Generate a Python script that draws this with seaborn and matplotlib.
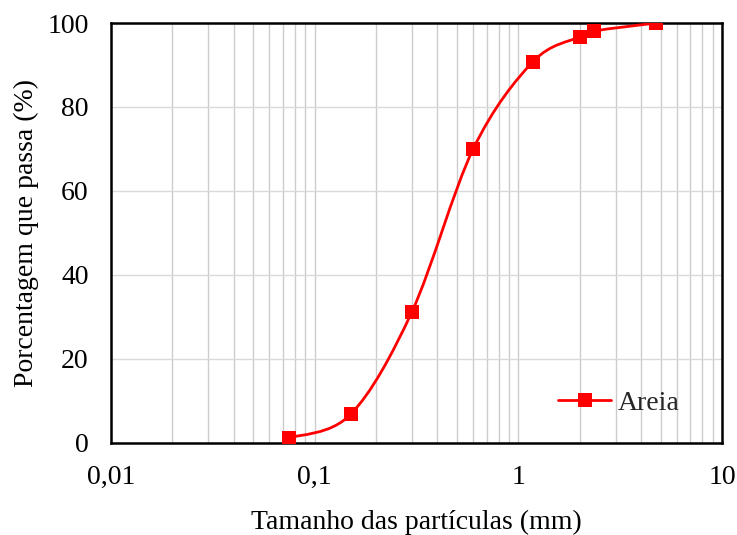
import numpy as np
import matplotlib
matplotlib.use("Agg")
import matplotlib.pyplot as plt
import seaborn as sns
import pandas as pd
from matplotlib.path import Path
from matplotlib.patches import PathPatch
from matplotlib.lines import Line2D
from matplotlib.ticker import LogLocator, FixedLocator, FixedFormatter, NullFormatter

# Curva granulométrica da areia (peneiras em mm, % passante)
tamanho_mm = [0.075, 0.15, 0.3, 0.6, 1.18, 2.0, 2.36, 4.75]
passante = [1.2, 6.8, 31.2, 70.0, 90.8, 96.7, 98.1, 100.0]
serie = "Areia"

x_ticks = [0.01, 0.1, 1, 10]
x_tick_labels = ["0,01", "0,1", "1", "10"]
y_ticks = [0, 20, 40, 60, 80, 100]

VERMELHO = "#ff0000"

sns.set_theme(style="white")
plt.rcParams['font.family'] = ['Liberation Serif', 'DejaVu Serif']

df = pd.DataFrame({"tamanho": tamanho_mm, "passante": passante, "serie": serie})

fig = plt.figure(figsize=(7.37, 5.35), dpi=100)
ax = fig.add_axes([0.1506, 0.172, 0.8291, 0.785])
ax.set_xscale("log")
ax.set_xlim(0.01, 10)
ax.set_ylim(0, 100)


def curva_suave(xs, ys):
    """Linha suavizada (estilo Excel) como bezier cubica no espaco log-x"""
    lx = np.log10(xs)
    p = np.column_stack([lx, ys])
    n = len(p)
    verts = [p[0]]
    codes = [Path.MOVETO]
    for i in range(n - 1):
        p0 = p[i - 1] if i > 0 else p[i]
        p1 = p[i]
        p2 = p[i + 1]
        p3 = p[i + 2] if i + 2 < n else p[i + 1]
        c1 = p1 + (p2 - p0) / 6.0
        c2 = p2 - (p3 - p1) / 6.0
        verts += [c1, c2, p2]
        codes += [Path.CURVE4] * 3
    verts = np.array(verts)
    verts[:, 0] = 10 ** verts[:, 0]
    return Path(verts, codes)


patch = PathPatch(curva_suave(df["tamanho"].values, df["passante"].values),
                  facecolor="none", edgecolor=VERMELHO, lw=2.0,
                  transform=ax.transData, zorder=3)
ax.add_patch(patch)

sns.scatterplot(data=df, x="tamanho", y="passante", marker="s", s=110,
                color=VERMELHO, linewidth=0, ax=ax, zorder=4, legend=False)

# Grades
ax.xaxis.set_major_locator(FixedLocator(x_ticks))
ax.xaxis.set_major_formatter(FixedFormatter(x_tick_labels))
ax.xaxis.set_minor_locator(LogLocator(base=10, subs=np.arange(2, 10)))
ax.xaxis.set_minor_formatter(NullFormatter())
ax.set_yticks(y_ticks)
ax.grid(True, which="both", axis="x", color="#cccccc", lw=1.0)
ax.grid(True, which="major", axis="y", color="#d9d9d9", lw=1.0)
ax.set_axisbelow(True)

for s in ax.spines.values():
    s.set_color("black")
    s.set_linewidth(1.8)

ax.tick_params(axis="both", which="major", direction="out", length=6, width=1.5,
               color="black", labelsize=20, labelcolor="black")
ax.tick_params(axis="x", which="major", pad=9.5)
ax.tick_params(axis="y", which="major", pad=10)
ax.tick_params(axis="x", which="minor", length=0)
ax.tick_params(axis="y", which="both", right=False)
ax.tick_params(axis="x", which="both", top=False)

ax.set_xlabel("Tamanho das partículas (mm)", fontsize=20, color="black", labelpad=15)
ax.set_ylabel("Porcentagem que passa (%)", fontsize=20, color="black", labelpad=6)

handle = Line2D([], [], color=VERMELHO, lw=2.0, marker="s", markersize=10.5,
                markeredgewidth=0)
ax.legend([handle], [serie], loc="center right", bbox_to_anchor=(1.0, 0.095),
          frameon=False, fontsize=20, handlelength=1.9, handletextpad=0.25,
          borderaxespad=1.12)

fig.savefig("out.png", dpi=100)
